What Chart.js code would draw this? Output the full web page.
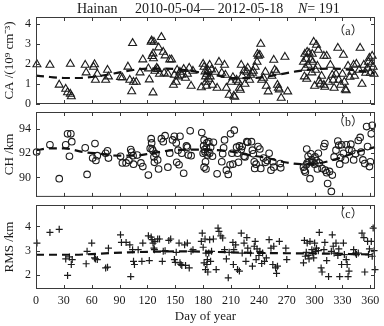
<!DOCTYPE html>
<html><head><meta charset="utf-8">
<script src="https://cdn.jsdelivr.net/npm/chart.js@4/dist/chart.umd.min.js"></script>
<style>
html,body{margin:0;padding:0;background:#fff;width:384px;height:326px;overflow:hidden;position:relative;font-family:'Liberation Serif',serif;}
.pnl{position:absolute;left:0;width:384px;}
#title{position:absolute;top:1px;left:0;width:384px;height:16px;font-size:14px;line-height:16px;color:#1a1a1a;white-space:nowrap;z-index:5;}
#title span{position:absolute;top:0;}
</style></head>
<body>
<div class="pnl" style="top:0;height:110px"><canvas id="ca"></canvas></div>
<div class="pnl" style="top:106px;height:96px"><canvas id="ch"></canvas></div>
<div class="pnl" style="top:199px;height:127px"><canvas id="rms"></canvas></div>
<div id="title"><span style="left:77px">Hainan</span><span style="left:135px">2010-05-04— 2012-05-18</span><span style="left:298px"><i>N</i>= 191</span></div>
<script>
// ---- data ----
const xTicks = [0,30,60,90,120,150,180,210,240,270,300,330,360];
const caTicks = [0,1,2,3,4];
const chTicks = [90,92,94];
const rmsTicks = [2,3,4];

const caDays = [1,15,25,32,34,37,38,37,53,54,62,63,64,66,75,77,78,
91,93,99,101,103,104,105,108,112,115,121,122,124,124.5,125,126,126,126.5,127,128,130,131,132,133,135,137,139,138,142,144,146,148,149,151,152,153,155,157,159,161,163,165,167,169,
178,180,181,182,182.5,183,183.5,184,185,186,187,187.5,189,190,193,195,197,200,203,204,205,208,210,212,213,214,216,218,219,220,221,222,224,225,227,228,230,231,233,234,236,238,238.5,239.5,241,242,243,245,247,248,250,254,256,257,259,260,261,262,264,268,271,
288,289,289.5,290,291,291.5,292,293,294,296,297,297.5,298,299,300,301,302,303,304,305,306,307.5,310,310,311,313,315,317,319,320,321,323,325,326,328,330,331,332,333,334,336,338,340,342,343,345,348,349,351,353,355,357,358,359,360,361,362,363,364];
const caValues = [1.98,1.95,0.96,0.75,0.58,0.5,0.38,2.0,1.95,1.57,1.85,1.98,1.2,1.5,1.2,1.7,1.37,
1.34,1.32,1.86,1.2,0.63,3.04,1.1,1.1,1.57,2.22,1.77,1.22,3.1,3.17,2.39,2.52,0.57,2.28,3.1,1.65,1.8,1.74,2.82,1.5,3.34,2.6,2.42,1.55,1.5,2.22,2.22,0.95,1.45,1.1,1.7,1.37,1.6,1.45,1.74,1.3,1.5,1.8,0.9,1.65,
0.83,2.0,1.85,1.62,1.37,1.1,0.9,1.5,1.7,1.25,1.95,1.37,1.72,0.95,1.6,0.8,2.1,1.55,1.95,1.45,0.8,0.45,1.1,1.33,0.4,0.35,1.2,1.1,0.8,0.7,1.95,1.4,1.67,1.0,1.6,1.8,1.2,1.45,1.55,1.65,1.85,2.1,2.5,2.4,2.45,3.0,1.2,1.3,1.6,0.9,0.62,1.4,2.2,1.7,1.6,0.95,0.8,0.72,0.3,2.35,0.62,
2.1,1.37,2.5,1.8,2.25,1.25,2.6,1.95,2.55,2.2,1.57,2.5,2.1,3.1,0.9,1.7,2.95,1.9,2.7,1.15,1.0,1.4,2.4,0.95,0.85,2.4,1.1,1.95,1.45,1.2,0.8,1.5,2.8,1.2,0.95,1.5,2.45,1.1,0.72,0.68,1.9,1.35,1.6,1.95,1.4,2.0,1.7,2.8,1.0,1.95,1.55,1.8,2.1,2.3,1.55,2.0,2.4,1.85,1.5];

const chDays = [0.7,15,25,32,34,36,37.5,38.5,53,55,61,63.5,64.5,66,75,77,78,91,93,97,100,102,103,104.5,105,109,113,115,121,123,124,124.5,125,126,127,127.5,129,131,132,135,137,139,142,144,147,149,151,151.5,153,154,155,157,159,162,163,164,166,167,
178.5,180,180.5,181,181.5,181,182,182.5,183,183.5,184,184.5,185,186,187,188,190,191,195,200,201,202,203,205,207,209,209.5,211,212,213.5,216,217,218,219,221,222,224,225,227,228,232,233,234,235,235.5,237,239,241,242,245,247,249,251,253,255,256,263,263.5,
288,289,290,291,291.5,292,293,294,295,296,297,298,300,300.5,302,303,304,305,308,310,311,311.5,313,314,316,318,319,321,323,325,326,327,328,329,331,333,334,337,339,340,342,344,347,349,350,352,354,356,357,359,360,361,362];
const chValues = [92.1,92.7,89.9,92.7,93.6,91.75,93.6,92.95,92.45,90.25,91.6,92.8,91.4,91.8,92.0,92.2,91.6,91.75,91.2,91.2,91.4,92.3,92.1,91.8,91.1,91.85,91.2,90.9,90.2,92.4,93.2,92.85,92.35,92.2,91.7,91.25,91.95,91.45,90.7,93.2,92.95,93.45,90.85,92.0,93.1,93.4,92.85,91.25,92.25,91.05,93.4,92.0,90.35,92.6,92.5,91.85,93.85,91.8,
93.7,92.0,92.6,93.1,92.3,90.85,92.1,91.3,90.7,92.45,92.85,91.85,92.1,92.95,92.0,92.5,91.75,92.9,90.3,91.3,91.95,92.45,93.1,90.6,90.25,91.05,93.6,92.0,91.1,93.9,92.5,92.0,91.25,92.6,92.3,92.55,91.75,91.7,92.95,92.9,92.95,92.25,91.95,91.3,90.75,91.1,92.55,92.35,90.75,91.6,91.25,91.4,92.0,90.6,91.3,90.85,91.15,90.8,
90.85,90.6,90.45,91.05,92.35,91.2,91.75,91.3,89.9,91.95,91.45,91.25,91.1,91.7,91.4,90.7,92.0,91.2,90.75,92.55,92.8,90.6,90.4,89.5,90.5,88.85,90.2,91.7,92.25,93.0,92.65,91.1,91.65,92.7,92.0,91.45,92.7,92.3,92.75,92.2,91.45,91.95,93.05,93.3,92.1,91.45,91.15,94.2,92.55,90.9,91.3,93.6,94.3];

const rmsDays = [1,15,25,32,34,36,38,39,54,55,60,63,64,66,75,77,78,91,92,97,101,102,104,105,106,110,114,115,121,122,124,125,126,127,127.5,128,131,133,136,137,139,143,145,149,150,151,154,155,156,157,160,161,163,165,167,169,
178,179,180,181,182,182.5,183,184,184.5,185,186,187,188,189,191,194,196,197,199,201,203,205,207,208,212,212.5,213,215,217,219,221,222,224,226,227,228,231,233,235,236,237,238,240,241,243,244,246,248,251,253,255,256,258,259,260,262,269,270,
288,289,290,291,292,293,294,295,297,298,299,300,301,302,304,305,307,308,310,311,313,315,318,319,320,321,323,325,326,327,329,331,332,334,335,336,337,342,344,345,347,351,353,354,357,358,359,361,362,363,364,365];
const rmsValues = [3.31,3.75,3.88,2.66,1.98,2.74,2.43,2.63,2.46,2.97,3.31,2.7,2.66,2.63,2.29,2.32,3.1,3.65,3.34,3.34,3.24,1.93,3.04,2.56,2.43,3.04,2.56,3.31,3.61,2.59,3.56,3.45,3.31,3.1,3.04,3.38,3.48,3.48,2.56,2.97,3.0,3.42,3.48,2.63,2.52,2.93,3.31,2.5,2.43,2.39,3.24,2.39,3.31,2.29,2.97,3.04,
3.38,3.72,3.14,2.5,3.48,2.22,2.9,2.43,2.63,2.12,2.9,3.45,2.56,2.97,3.48,2.22,3.93,3.79,3.61,3.52,3.04,2.66,1.88,2.93,3.34,2.43,3.04,3.24,2.22,2.16,3.72,2.9,3.31,2.56,3.54,3.1,2.9,2.36,3.18,3.38,2.63,3.07,2.8,2.97,2.47,2.9,2.56,2.7,3.45,3.1,2.43,3.18,2.29,2.06,2.36,3.38,3.1,2.63,
2.5,3.42,2.77,2.93,3.31,2.8,2.66,3.38,3.04,2.9,2.7,3.31,2.97,3.1,3.0,3.75,2.29,2.12,3.04,3.34,2.59,1.93,2.97,3.65,3.18,2.9,3.31,2.8,3.07,1.93,2.43,3.31,2.84,2.63,2.43,1.93,2.16,3.04,2.9,2.84,2.9,3.72,3.54,2.12,3.38,2.84,3.07,3.38,2.77,3.93,3.0,2.22];

const caTrendDays = [0,15,30,45,60,75,90,105,120,140,160,180,200,215,235,255,280,300,320,340,365];
const caTrendValues = [1.42,1.35,1.3,1.3,1.35,1.45,1.58,1.7,1.77,1.77,1.7,1.55,1.38,1.29,1.3,1.42,1.63,1.74,1.77,1.7,1.55];
const chTrendDays = [0,15,30,51,70,87,105,125,141,160,177,195,213,230,249,265,285,303,320,338,350,365];
const chTrendValues = [92.25,92.4,92.4,92.1,91.95,91.8,91.8,92.0,92.2,92.3,92.3,92.25,92.1,91.85,91.6,91.3,91.1,91.15,91.45,91.9,92.2,92.5];
const rmsTrendDays = [0,40,70,100,130,160,190,220,250,280,310,340,365];
const rmsTrendValues = [2.83,2.83,2.88,2.93,2.96,2.97,2.95,2.92,2.9,2.89,2.88,2.86,2.84];

// ---- drawing ----
Chart.defaults.font.family = "'Liberation Serif', 'Times New Roman', serif";
Chart.defaults.color = '#1a1a1a';
Chart.defaults.animation = false;

const pts = (d, v) => d.map((x, i) => ({x, y: v[i]}));

const frame = {
  id: 'frame',
  afterDatasetsDraw(chart, args, opts) {
    const {ctx, chartArea: a, scales: {x, y}} = chart;
    ctx.save();
    ctx.strokeStyle = '#3a3a3a';
    ctx.lineWidth = 1;
    ctx.strokeRect(a.left + 0.5, a.top + 0.5, a.right - a.left - 1, a.bottom - a.top - 1);
    ctx.beginPath();
    const L = 4;
    x.ticks.forEach(t => {
      const p = Math.round(x.getPixelForValue(t.value)) + 0.5;
      ctx.moveTo(p, a.top); ctx.lineTo(p, a.top + L);
      ctx.moveTo(p, a.bottom); ctx.lineTo(p, a.bottom - L);
    });
    y.ticks.forEach(t => {
      const p = Math.round(y.getPixelForValue(t.value)) + 0.5;
      ctx.moveTo(a.left, p); ctx.lineTo(a.left + L, p);
      ctx.moveTo(a.right, p); ctx.lineTo(a.right - L, p);
    });
    ctx.stroke();
    ctx.fillStyle = '#1a1a1a';
    ctx.font = "12px 'Liberation Serif', 'Noto Sans CJK SC', serif";
    ctx.textAlign = 'center';
    ctx.textBaseline = 'middle';
    ctx.fillText(opts.label, a.right - 27, a.top + opts.dy);
    ctx.restore();
  }
};

function makeChart(id, opt) {
  const xLabels = opt.xLabels;
  return new Chart(document.getElementById(id), {
    type: 'scatter',
    data: {
      datasets: [
        {
          type: 'line',
          data: pts(opt.trendDays, opt.trendValues),
          borderColor: '#111',
          borderWidth: 2.2,
          borderDash: [8, 5],
          pointRadius: 0,
          tension: 0.4,
          cubicInterpolationMode: 'monotone',
          fill: false,
          clip: false
        },
        {
          data: pts(opt.days, opt.values),
          pointStyle: opt.style,
          pointRadius: opt.radius,
          borderColor: '#1c1c1c',
          backgroundColor: 'rgba(0,0,0,0)',
          borderWidth: opt.bw,
          clip: false
        }
      ]
    },
    options: {
      responsive: true,
      maintainAspectRatio: false,
      events: [],
      layout: {padding: opt.padding},
      plugins: {legend: {display: false}, tooltip: {enabled: false}, frame: {label: opt.label, dy: opt.dy}},
      scales: {
        x: {
          type: 'linear', min: 0, max: 365,
          grid: {display: false, drawTicks: false},
          border: {display: false},
          afterBuildTicks: s => { s.ticks = xTicks.map(v => ({value: v})); },
          afterFit: s => { s.height = opt.xHeight; s.paddingLeft = 0; s.paddingRight = 0; },
          ticks: {display: xLabels, padding: 5, maxRotation: 0, autoSkip: false, font: {size: 12}, color: '#1a1a1a'},
          title: {display: xLabels, text: 'Day of year', font: {size: 13}, color: '#1a1a1a', padding: {top: 0, bottom: 2}}
        },
        y: {
          type: 'linear', min: opt.ymin, max: opt.ymax,
          grid: {display: false, drawTicks: false},
          border: {display: false},
          afterBuildTicks: s => { s.ticks = opt.yTicks.map(v => ({value: v})); },
          afterFit: s => { s.width = 36; s.paddingTop = 0; s.paddingBottom = 0; },
          ticks: {padding: 5, font: {size: 12}, color: '#1a1a1a'},
          title: {display: true, text: opt.ytitle, font: {size: 13}, color: '#1a1a1a', padding: {top: 2, bottom: 2}}
        }
      }
    },
    plugins: [frame]
  });
}

makeChart('ca', {
  days: caDays, values: caValues, trendDays: caTrendDays, trendValues: caTrendValues,
  style: 'triangle', radius: 4.6, bw: 1.1, ymin: 0, ymax: 4.35, yTicks: caTicks,
  ytitle: 'CA /(10⁹ cm⁻³)', label: '（a）', dy: 15,
  padding: {top: 17, bottom: 6, left: 0, right: 9}, xHeight: 0, xLabels: false
});
makeChart('ch', {
  days: chDays, values: chValues, trendDays: chTrendDays, trendValues: chTrendValues,
  style: 'circle', radius: 3.3, bw: 1.1, ymin: 88.4, ymax: 95.4, yTicks: chTicks,
  ytitle: 'CH /km', label: '（b）', dy: 11,
  padding: {top: 6, bottom: 5, left: 0, right: 9}, xHeight: 0, xLabels: false
});
makeChart('rms', {
  days: rmsDays, values: rmsValues, trendDays: rmsTrendDays, trendValues: rmsTrendValues,
  style: 'cross', radius: 3.5, bw: 1.2, ymin: 1.42, ymax: 4.88, yTicks: rmsTicks,
  ytitle: 'RMS /km', label: '（c）', dy: 10,
  padding: {top: 6, bottom: 0, left: 0, right: 9}, xHeight: 37, xLabels: true
});
</script>
</body></html>
